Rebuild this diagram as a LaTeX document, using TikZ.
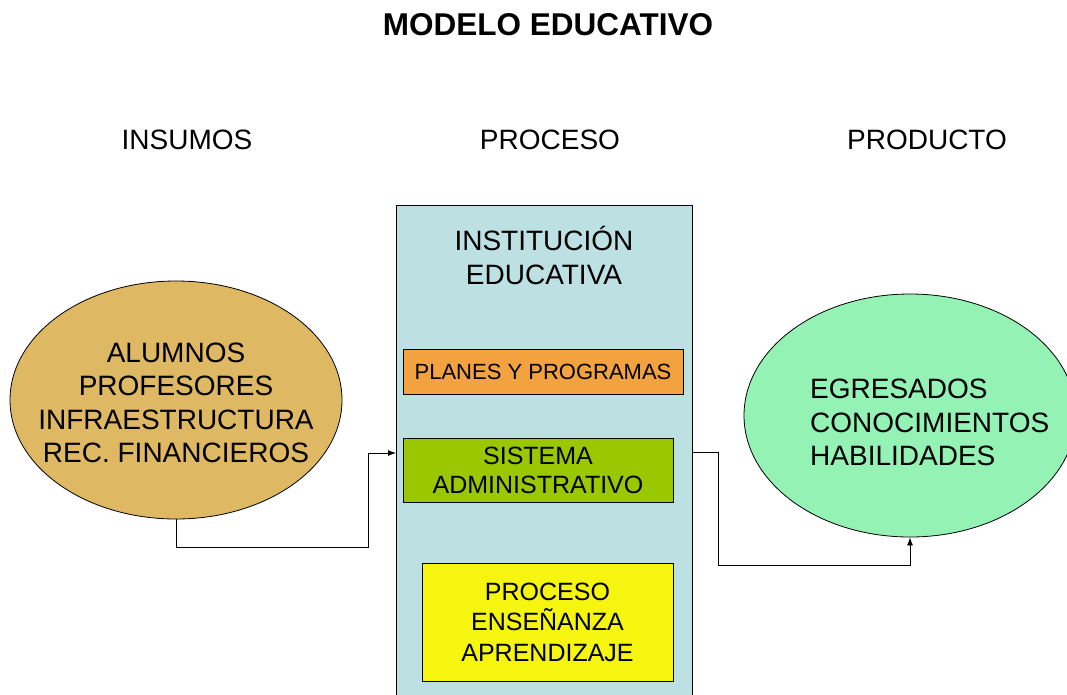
\documentclass[tikz,border=0pt]{standalone}
\usepackage{fontspec}
\setmainfont{Liberation Sans}
\usetikzlibrary{shapes.geometric,arrows.meta}
\definecolor{insumocol}{HTML}{DEB862}
\definecolor{prodcol}{HTML}{94F3B4}
\definecolor{instcol}{HTML}{BDE0E3}
\definecolor{planescol}{HTML}{F2A23F}
\definecolor{sistcol}{HTML}{99C800}
\definecolor{procol}{HTML}{F5F510}
\begin{document}
\begin{tikzpicture}[x=1pt,y=-1pt,
  txt/.style={font=\fontsize{28}{33.3}\selectfont, align=center, inner sep=0pt},
  boxed/.style={draw=black, line width=0.8pt, inner sep=0pt},
  oval/.style={ellipse, draw=black, line width=0.8pt, inner sep=0pt},
  conn/.style={draw=black, line width=0.8pt, -{Latex[length=8pt,width=6pt]}}]
\useasboundingbox (0,0) rectangle (1067,694);
\fill[white] (0,0) rectangle (1067,694);

\node[font=\bfseries\fontsize{31.5}{36}\selectfont, inner sep=0pt] (title) at (548,25) {MODELO EDUCATIVO};
\node[txt] (hins) at (187,140) {INSUMOS};
\node[txt] (hproc) at (550,140) {PROCESO};
\node[txt] (hprod) at (927,140) {PRODUCTO};

\node[boxed, fill=instcol, minimum width=296pt, minimum height=520pt, anchor=north west] (inst) at (396,205) {};
\node[txt, font=\fontsize{28}{34}\selectfont] (insttext) at (544,255) {INSTITUCIÓN\\EDUCATIVA};

\node[boxed, fill=planescol, minimum width=280pt, minimum height=45pt, font=\fontsize{22}{26}\selectfont] (planes) at (543,371.5) {PLANES Y PROGRAMAS};
\node[boxed, fill=sistcol, minimum width=270pt, minimum height=64pt, align=center, font=\fontsize{25}{29}\selectfont] (sist) at (538,470) {SISTEMA\\ADMINISTRATIVO};
\node[boxed, fill=procol, minimum width=251pt, minimum height=118pt, align=center, font=\fontsize{25}{30.5}\selectfont] (pea) at (547.5,622) {PROCESO\\ENSEÑANZA\\APRENDIZAJE};

\node[oval, fill=insumocol, minimum width=332pt, minimum height=238pt] (ins) at (176,400) {};
\node[txt] (instext) at (176,403) {ALUMNOS\\PROFESORES\\INFRAESTRUCTURA\\REC. FINANCIEROS};
\node[oval, fill=prodcol, minimum width=332pt, minimum height=243pt] (prod) at (910,415.5) {};
\node[txt, align=left, anchor=west] (prodtext) at (810,422.5) {EGRESADOS\\CONOCIMIENTOS\\HABILIDADES};

\coordinate (l1) at (368,547);
\coordinate (r1) at (718,565);
\draw[conn] (ins.south) |- (l1) |- (inst.west |- 0,453);
\draw[conn] (inst.east |- 0,452) -| (r1) -| (prod.south);
\end{tikzpicture}
\end{document}
